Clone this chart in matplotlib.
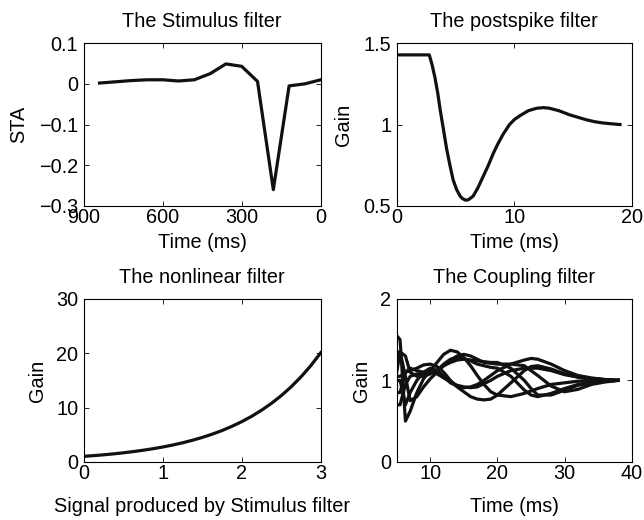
import numpy as np
import matplotlib.pyplot as plt

plt.rcParams['font.family'] = ['Liberation Sans', 'DejaVu Sans']
plt.rcParams['font.size'] = 14.3
plt.rcParams['axes.unicode_minus'] = True

# stimulus filter (STA), time before spike in ms
stim_t = [840, 780, 720, 660, 600, 540, 480, 420, 360, 300, 240, 180, 120, 60, 0]
stim_v = [0.002, 0.005, 0.008, 0.01, 0.01, 0.007, 0.01, 0.025, 0.049, 0.043,
          0.006, -0.26, -0.005, 0.0, 0.01]

# postspike filter
post_t = [0, 0.5, 1, 1.5, 2, 2.5, 2.77, 3.0, 3.25, 3.5, 3.7, 4.0, 4.25, 4.5, 4.8,
          5.1, 5.4, 5.6, 5.86, 6.1, 6.5, 6.9, 7.35, 7.8, 8.2, 8.6, 9.05, 9.6,
          10.0, 10.5, 11.2, 11.9, 12.5, 13.0, 13.8, 14.7, 15.4, 16.1, 16.8,
          17.5, 18.2, 19.0]
post_v = [1.428, 1.428, 1.428, 1.428, 1.428, 1.428, 1.428, 1.37, 1.29, 1.19,
          1.09, 0.96, 0.85, 0.76, 0.66, 0.6, 0.56, 0.545, 0.535, 0.538, 0.56,
          0.61, 0.68, 0.75, 0.82, 0.88, 0.94, 1.0, 1.03, 1.055, 1.085, 1.1,
          1.104, 1.1, 1.085, 1.06, 1.045, 1.03, 1.018, 1.01, 1.005, 1.0]

# nonlinearity
nl_x = [0, 0.125, 0.25, 0.375, 0.5, 0.625, 0.75, 0.875, 1.0, 1.125, 1.25, 1.375,
        1.5, 1.625, 1.75, 1.875, 2.0, 2.125, 2.25, 2.375, 2.5, 2.625, 2.75,
        2.875, 3.0]
nl_y = [1.0, 1.13, 1.28, 1.45, 1.65, 1.87, 2.12, 2.4, 2.72, 3.08, 3.49, 3.96,
        4.48, 5.08, 5.75, 6.52, 7.39, 8.37, 9.49, 10.75, 12.18, 13.8, 15.64,
        17.72, 20.09]

# coupling filters
cp_t = [5, 5.5, 6.3, 7, 8, 9, 10, 11, 12, 13, 14, 15, 16, 17, 18, 19, 20,
        22, 24, 25, 26, 28, 30, 32, 34, 36, 38]
cp_1 = [1.55, 1.5, 0.5, 0.62, 0.85, 1.02, 1.12, 1.22, 1.32, 1.37, 1.35, 1.28,
        1.18, 1.06, 0.95, 0.86, 0.82, 0.8, 0.84, 0.87, 0.9, 0.95, 0.97, 0.99,
        1.0, 1.0, 1.0]
cp_2 = [1.35, 1.35, 1.05, 0.75, 0.8, 0.92, 1.02, 1.1, 1.18, 1.25, 1.3, 1.32,
        1.3, 1.26, 1.22, 1.21, 1.2, 1.2, 1.25, 1.27, 1.26, 1.2, 1.12, 1.06,
        1.03, 1.01, 1.0]
cp_3 = [1.05, 1.05, 1.1, 1.12, 1.15, 1.19, 1.2, 1.17, 1.1, 1.0, 0.92, 0.86,
        0.8, 0.77, 0.76, 0.77, 0.82, 0.97, 1.12, 1.17, 1.18, 1.14, 1.08, 1.04,
        1.02, 1.01, 1.0]
cp_4 = [0.85, 0.85, 1.1, 1.15, 1.12, 1.1, 1.1, 1.08, 1.03, 0.98, 0.94, 0.92,
        0.91, 0.92, 0.96, 1.0, 1.05, 1.12, 1.15, 1.15, 1.15, 1.12, 1.07, 1.04,
        1.02, 1.01, 1.0]
cp_5 = [0.7, 0.7, 0.95, 1.05, 1.08, 1.08, 1.1, 1.13, 1.18, 1.22, 1.25, 1.26,
        1.25, 1.24, 1.23, 1.22, 1.22, 1.15, 1.0, 0.9, 0.82, 0.82, 0.88, 0.94,
        0.97, 0.99, 1.0]
cp_6 = [1.0, 1.0, 0.7, 0.85, 1.0, 1.1, 1.15, 1.12, 1.05, 0.97, 0.93, 0.91,
        0.92, 0.95, 1.0, 1.06, 1.12, 1.2, 1.18, 1.12, 1.06, 0.93, 0.86, 0.89,
        0.95, 0.98, 1.0]
cp_7 = [1.1, 1.35, 1.3, 1.1, 1.05, 1.05, 1.08, 1.12, 1.2, 1.26, 1.28, 1.27,
        1.24, 1.2, 1.18, 1.16, 1.15, 1.05, 0.88, 0.82, 0.8, 0.84, 0.9, 0.95,
        0.98, 0.99, 1.0]
couplings = [cp_1, cp_2, cp_3, cp_4, cp_5, cp_6, cp_7]

col = '#111111'
lw = 2.3

fig = plt.figure(figsize=(6.44, 5.2), dpi=100)
ax1 = fig.add_axes([0.130, 0.604, 0.368, 0.313])
ax2 = fig.add_axes([0.616, 0.604, 0.365, 0.313])
ax3 = fig.add_axes([0.130, 0.112, 0.368, 0.313])
ax4 = fig.add_axes([0.616, 0.112, 0.365, 0.313])

for ax in (ax1, ax2, ax3, ax4):
    ax.tick_params(direction='in', top=True, right=True, length=3.5, width=0.6,
                   labelsize=14.3)
    ax.tick_params(axis='x', pad=1.5)
    ax.tick_params(axis='y', pad=4)
    for s in ax.spines.values():
        s.set_linewidth(0.8)

ax1.plot(stim_t, stim_v, color=col, lw=lw)
ax1.set_xlim(900, 0)
ax1.set_ylim(-0.3, 0.1)
ax1.set_xticks([900, 600, 300, 0])
ax1.set_yticks([0.1, 0, -0.1, -0.2, -0.3])
ax1.set_yticklabels(['0.1', '0', '\u22120.1', '\u22120.2', '\u22120.3'])
ax1.set_title('The Stimulus filter', fontsize=14.3, pad=11.5)
ax1.set_xlabel('Time (ms)')
ax1.set_ylabel('STA')
ax1.xaxis.set_label_coords(0.5, -0.165)
ax1.yaxis.set_label_coords(-0.236, 0.5)

ax2.plot(post_t, post_v, color=col, lw=lw)
ax2.set_xlim(0, 20)
ax2.set_ylim(0.5, 1.5)
ax2.set_xticks([0, 10, 20])
ax2.set_yticks([0.5, 1, 1.5])
ax2.set_yticklabels(['0.5', '1', '1.5'])
ax2.set_title('The postspike filter', fontsize=14.3, pad=11.5)
ax2.set_xlabel('Time (ms)')
ax2.set_ylabel('Gain')
ax2.xaxis.set_label_coords(0.5, -0.165)
ax2.yaxis.set_label_coords(-0.187, 0.5)

ax3.plot(nl_x, nl_y, color=col, lw=lw)
ax3.set_xlim(0, 3)
ax3.set_ylim(0, 30)
ax3.set_xticks([0, 1, 2, 3])
ax3.set_yticks([0, 10, 20, 30])
ax3.set_title('The nonlinear filter', fontsize=14.3, pad=11.5)
ax3.set_xlabel('Signal produced by Stimulus filter')
ax3.set_ylabel('Gain')
ax3.xaxis.set_label_coords(0.5, -0.215)
ax3.yaxis.set_label_coords(-0.156, 0.5)

for c in couplings:
    ax4.plot(cp_t, c, color=col, lw=lw)
ax4.set_xlim(5, 40)
ax4.set_ylim(0, 2)
ax4.set_xticks([10, 20, 30, 40])
ax4.set_yticks([0, 1, 2])
ax4.set_title('The Coupling filter', fontsize=14.3, pad=11.5)
ax4.set_xlabel('Time (ms)')
ax4.set_ylabel('Gain')
ax4.xaxis.set_label_coords(0.5, -0.215)
ax4.yaxis.set_label_coords(-0.11, 0.5)

fig.savefig('out.png', dpi=100)
